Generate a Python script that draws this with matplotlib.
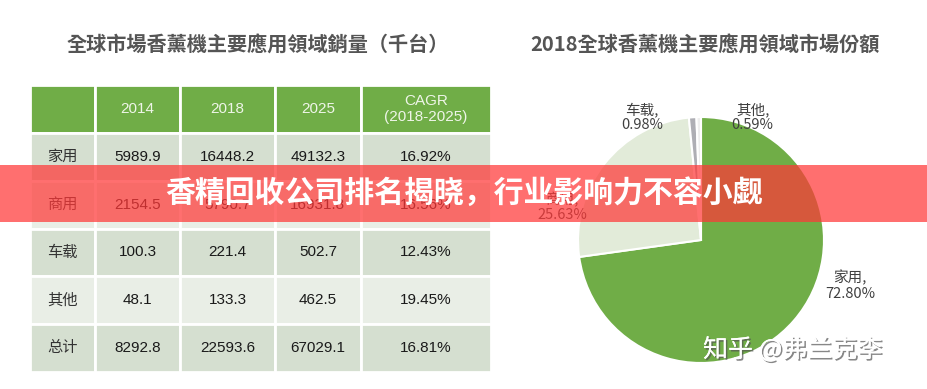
import matplotlib
matplotlib.use('Agg')
import matplotlib.pyplot as plt
import matplotlib.patheffects as pe
from matplotlib.patches import Rectangle

plt.rcParams['font.family'] = ['Liberation Sans', 'Noto Sans CJK SC', 'DejaVu Sans']

# table: sales by application (thousand units)
columns = ['2014', '2018', '2025', 'CAGR\n(2018-2025)']
rows = ['家用', '商用', '车载', '其他', '总计']
sales_2014 = [5989.9, 2154.5, 100.3, 48.1, 8292.8]
sales_2018 = [16448.2, 5790.7, 221.4, 133.3, 22593.6]
sales_2025 = [49132.3, 16931.8, 502.7, 462.5, 67029.1]
cagr = [16.92, 16.56, 12.43, 19.45, 16.81]

# pie: 2018 market share
pie_labels = ['家用', '商用', '车载', '其他']
pie_share = [72.80, 25.63, 0.98, 0.59]

W, H = 928, 389
fig = plt.figure(figsize=(W / 100, H / 100), dpi=100)
fig.patch.set_facecolor('white')

def fx(px):
    return px / W

def fy(py):
    return 1 - py / H

# ---- left table ----
tax = fig.add_axes([fx(30), fy(372), fx(461), 287 / H])
tax.axis('off')
cell_text = []
for i in range(len(rows)):
    cell_text.append([rows[i], f'{sales_2014[i]:.1f}', f'{sales_2018[i]:.1f}',
                      f'{sales_2025[i]:.1f}', f'{cagr[i]:.2f}%'])
col_w = [64, 84, 93, 85, 128]
col_w = [w / sum(col_w) for w in col_w]
tbl = tax.table(cellText=cell_text, colLabels=[''] + columns, colWidths=col_w,
                bbox=[0, 0, 1, 1], cellLoc='center')
tbl.auto_set_font_size(False)
tbl.set_fontsize(11)
dark, light = '#D5DFD0', '#E9EEE6'
for (r, c), cell in tbl.get_celld().items():
    cell.set_edgecolor('white')
    cell.set_linewidth(2)
    if r == 0:
        cell.set_facecolor('#70AD47')
        cell.get_text().set_color('#EEF5E8')
        cell.get_text().set_linespacing(1.15)
    else:
        cell.set_facecolor(dark if r % 2 == 1 else light)
        cell.get_text().set_color('#333333' if c == 0 else '#1a1a1a')

fig.text(fx(258), fy(45), '全球市場香薰機主要應用領域銷量（千台）', ha='center', va='center',
         fontsize=14.5, fontweight='bold', color='#555555', family=['Noto Sans CJK TC'])

# ---- right pie ----
cx, cy, rad = 701, 240, 123
pax = fig.add_axes([fx(cx - rad), fy(cy + rad), 2 * rad / W, 2 * rad / H])
pie_colors = ['#70AD47', '#E2EBD9', '#AEAEB4', '#EEEEEE']
wedges, _ = pax.pie(pie_share, colors=pie_colors, startangle=90, counterclock=False,
                    radius=1, wedgeprops=dict(edgecolor='white', linewidth=1.5))
pax.set_xlim(-1, 1)
pax.set_ylim(-1, 1)
label_pos = [(1.21, -0.37), (-1.13, 0.27), (-0.48, 1.0), (0.42, 1.0)]
for name, share, (lx, ly) in zip(pie_labels, pie_share, label_pos):
    pax.text(lx, ly, f'{name},\n{share:.2f}%', ha='center', va='center', fontsize=10.5,
             color='#404040', linespacing=1.1, family=['Noto Sans CJK SC'])

fig.text(fx(705), fy(45), '2018全球香薰機主要應用領域市場份額', ha='center', va='center',
         fontsize=14.5, fontweight='bold', color='#555555', family=['Noto Sans CJK TC'])

# ---- overlay banner ----
fig.add_artist(Rectangle((0, fy(222)), 1, 57 / H, transform=fig.transFigure,
                         facecolor=(1.0, 0.22, 0.22), alpha=0.72, edgecolor='none', zorder=5))
fig.text(0.5, fy(193), '香精回收公司排名揭晓，行业影响力不容小觑', ha='center', va='center',
         fontsize=21.5, fontweight='bold', color='white', zorder=6,
         family=['Noto Sans CJK SC'])

# ---- watermark ----
fig.text(fx(703), fy(350), '知乎 @弗兰克李', ha='left', va='center', fontsize=18,
         color='white', zorder=7, family=['Noto Sans CJK SC'],
         path_effects=[pe.withSimplePatchShadow(offset=(1.2, -1.2), shadow_rgbFace='#555555', alpha=0.7),
                       pe.Normal()])

fig.savefig('out.png', dpi=100)
